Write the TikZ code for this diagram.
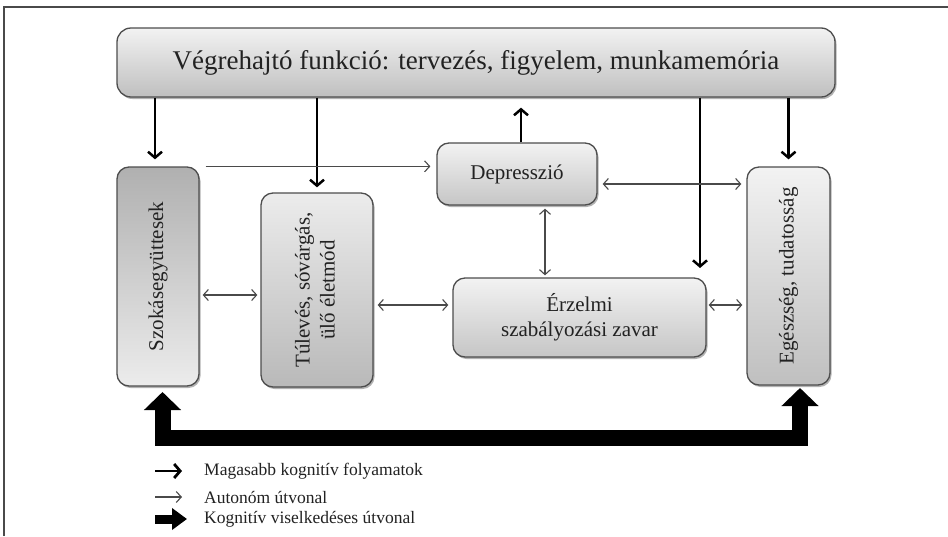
\documentclass[tikz,border=0pt]{standalone}
\usepackage{fontspec}
\setmainfont{Liberation Serif}
\usepackage{graphicx}
\usetikzlibrary{arrows.meta,shadows,calc}
\definecolor{bordc}{HTML}{4D4D4D}
\definecolor{thinc}{HTML}{4A4A4A}
\definecolor{txtc}{HTML}{222222}
\tikzset{
  box/.style={draw=bordc, line width=1.3pt, rounded corners=12pt, inner sep=0pt,
    align=center, text=txtc, font=\fontsize{21}{26}\selectfont,
    drop shadow={shadow xshift=1.5pt, shadow yshift=-2pt, opacity=.3, fill=black}},
  hi/.style={draw=black, line width=2.5pt, -{Straight Barb[length=6pt,width=14pt]}},
  lo/.style={draw=thinc, line width=1.1pt, -{Straight Barb[length=5pt,width=11pt]}},
  lolo/.style={draw=thinc, line width=1.1pt, {Straight Barb[length=5pt,width=11pt]}-{Straight Barb[length=5pt,width=11pt]}},
  block/.style={draw=black, line width=16pt, line join=miter,
    {Triangle[length=18pt,width=36pt]}-{Triangle[length=18pt,width=36pt]}},
  legtext/.style={anchor=west, inner sep=0pt, text=txtc, font=\fontsize{17.5}{20}\selectfont}
}
\begin{document}
\begin{tikzpicture}[x=1pt,y=-1pt]
\useasboundingbox (0,0) rectangle (948,536);
\fill[white] (0,0) rectangle (948,536);
% frame
\draw[thinc, line width=1.2pt] (4,536) -- (4,7) -- (948,7);

% boxes
\node[box, rounded corners=14pt, minimum width=718pt, minimum height=69pt,
      top color=gray!10, bottom color=gray!50, font=\fontsize{27}{32}\selectfont]
  (top) at (476,62.5) {Végrehajtó funkció: tervezés, figyelem, munkamemória};
\node[box, minimum width=82pt, minimum height=219pt, top color=gray!62, bottom color=gray!15]
  (szok) at (158,276.5) {\rotatebox{90}{Szokásegyüttesek}};
\node[box, minimum width=112pt, minimum height=194pt, top color=gray!15, bottom color=gray!55]
  (tul) at (317,290) {\rotatebox{90}{\begin{tabular}{@{}c@{}}Túlevés, sóvárgás,\\[-1pt] ülő életmód\end{tabular}}};
\node[box, minimum width=160pt, minimum height=62pt, top color=gray!10, bottom color=gray!45]
  (dep) at (517,174) {Depresszió};
\node[box, minimum width=253pt, minimum height=79pt, top color=gray!10, bottom color=gray!45]
  (erz) at (579.5,317.5) {Érzelmi\\[-1pt] szabályozási zavar};
\node[box, minimum width=83pt, minimum height=218pt, top color=gray!10, bottom color=gray!50]
  (ege) at (788.5,276) {\rotatebox{90}{Egészség, tudatosság}};

% helper coordinates
\coordinate (xa) at (155,0);
\coordinate (xc) at (700,268);
\coordinate (xe) at (521,0);
\coordinate (xv) at (545,0);
\coordinate (r1) at (0,295);
\coordinate (r2) at (0,305);
\coordinate (r3) at (0,184);
\coordinate (ul) at (162.5,392);
\coordinate (ur) at (800,388);
\coordinate (band) at (0,438);

% higher cognitive arrows
\draw[hi, shorten >=7pt] (top.south -| xa) -- (xa |- szok.north);
\draw[hi, shorten >=5pt] (top.south -| tul.north) -- (tul.north);
\draw[hi] (top.south -| xc) -- (xc);
\draw[hi, shorten >=7pt] (top.south -| ege.north) -- (ege.north);
\draw[hi, shorten >=10pt] (dep.north -| xe) -- (xe |- top.south);

% autonomous arrows
\draw[lo, shorten <=6pt, shorten >=6pt] (szok.north east) -- (dep.west |- szok.north east);
\draw[lolo, shorten <=3pt, shorten >=3pt] (szok.east |- r1) -- (tul.west |- r1);
\draw[lolo, shorten <=4pt, shorten >=4pt] (tul.east |- r2) -- (erz.west |- r2);
\draw[lolo, shorten <=3pt, shorten >=2pt] (dep.south -| xv) -- (erz.north -| xv);
\draw[lolo, shorten <=5pt, shorten >=5pt] (dep.east |- r3) -- (ege.west |- r3);
\draw[lolo, shorten <=2pt, shorten >=4pt] (erz.east |- r2) -- (ege.west |- r2);

% cognitive-behavioural block arrow
\draw[block] (ul) -- (ul |- band) -- (ur |- band) -- (ur);

% legend
\coordinate (la1) at (155,471);
\coordinate (lb1) at (182,471);
\coordinate (la2) at (155,497);
\coordinate (lb2) at (182,497);
\coordinate (la3) at (155,519);
\coordinate (lb3) at (187,519);
\draw[hi, line width=2.8pt] (la1) -- (lb1);
\draw[lo] (la2) -- (lb2);
\draw[draw=black, line width=9pt, -{Triangle[length=15pt,width=21pt]}] (la3) -- (lb3);
\node[legtext] (t1) at (204,471) {Magasabb kognitív folyamatok};
\node[legtext] (t2) at (204,497) {Autonóm útvonal};
\node[legtext] (t3) at (204,519) {Kognitív viselkedéses útvonal};
\end{tikzpicture}
\end{document}
